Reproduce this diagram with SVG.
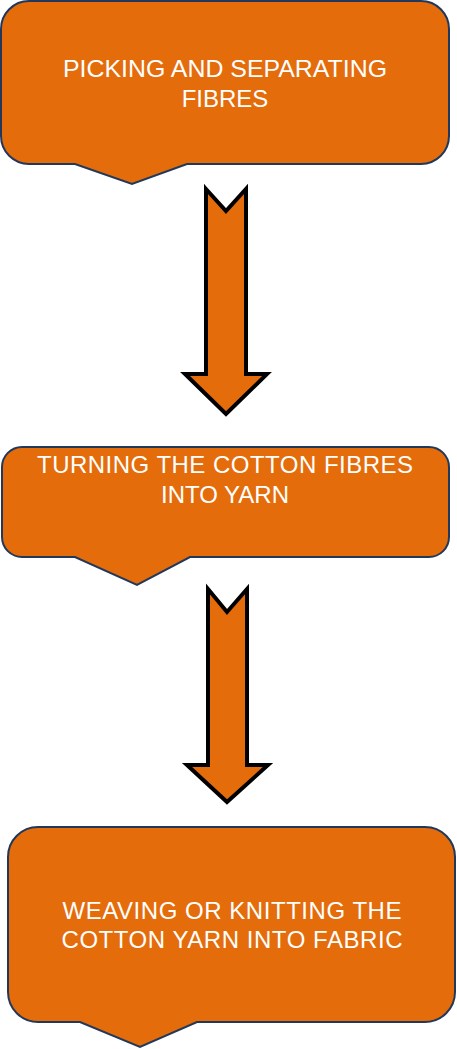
<svg xmlns="http://www.w3.org/2000/svg" width="457" height="1049" viewBox="0 0 457 1049">
<style>
.box{fill:#E46C0B;stroke:#22385A;stroke-width:2}
.arrow{fill:#E46C0B;stroke:#000;stroke-width:4;stroke-linejoin:miter}
.t{font-family:"Liberation Sans",Arial,sans-serif;font-size:24px;fill:#fff;text-anchor:middle}
</style>
<rect width="457" height="1049" fill="#fff"/>
<g id="node1">
<path class="box" d="M 29 1 H 421 A 28 28 0 0 1 449 29 V 136 A 28 28 0 0 1 421 164 H 187 L 132 184 L 75 164 H 29 A 28 28 0 0 1 1 136 V 29 A 28 28 0 0 1 29 1 Z"/>
<text class="t" x="225" y="77" textLength="324" lengthAdjust="spacingAndGlyphs">PICKING AND SEPARATING</text>
<text class="t" x="225" y="107">FIBRES</text>
</g>
<g id="node2">
<path class="box" d="M 22 447 H 429 A 20 20 0 0 1 449 467 V 537 A 20 20 0 0 1 429 557 H 190 L 137 585 L 75 557 H 22 A 20 20 0 0 1 2 537 V 467 A 20 20 0 0 1 22 447 Z"/>
<text class="t" x="225" y="473" textLength="376" lengthAdjust="spacing">TURNING THE COTTON FIBRES</text>
<text class="t" x="225" y="503">INTO YARN</text>
</g>
<g id="node3">
<path class="box" d="M 38 827 H 425 A 30 30 0 0 1 455 857 V 992 A 30 30 0 0 1 425 1022 H 197 L 140 1047 L 80 1022 H 38 A 30 30 0 0 1 8 992 V 857 A 30 30 0 0 1 38 827 Z"/>
<text class="t" x="232" y="919" textLength="339" lengthAdjust="spacing">WEAVING OR KNITTING THE</text>
<text class="t" x="232" y="948" textLength="341" lengthAdjust="spacing">COTTON YARN INTO FABRIC</text>
</g>
<g id="connectors">
<path class="arrow" d="M 206 189 L 226 211 L 246 189 V 374 H 267 L 226 414 L 185 374 H 206 Z"/>
<path class="arrow" d="M 208 589 L 227 612 L 247 589 V 765 H 268 L 227 802 L 187 765 H 208 Z"/>
</g>
</svg>
